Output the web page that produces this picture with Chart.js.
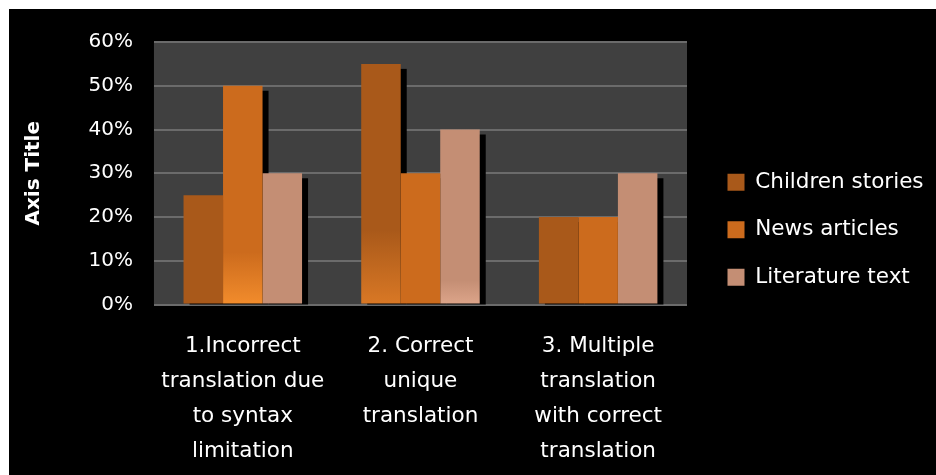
<!DOCTYPE html>
<html>
<head>
<meta charset="utf-8">
<script src="https://cdn.jsdelivr.net/npm/chart.js@4"></script>
<style>
  html, body { margin: 0; padding: 0; background: #ffffff; }
  #frame { position: absolute; left: 9px; top: 9px; width: 927px; height: 466px; background: #000000; overflow: hidden; }
  canvas { display: block; }
</style>
</head>
<body>
<div id="frame"><canvas id="chart" width="927" height="466"></canvas></div>
<script>
// Categories (multi-line axis labels)
const categories = [
  ['1.Incorrect', 'translation due', 'to syntax', 'limitation'],
  ['2. Correct', 'unique', 'translation'],
  ['3. Multiple', 'translation', 'with correct', 'translation']
];

// Series names
const seriesNames = ['Children stories', 'News articles', 'Literature text'];

// Series values (percent)
const childrenStories = [25, 55, 20];
const newsArticles = [50, 30, 20];
const literatureText = [30, 40, 30];

// Value axis
const yMin = 0;
const yMax = 60;
const yStep = 10;
const yAxisTitle = 'Axis Title';

// Styling
const seriesColors = ['#A9591A', '#CC6B1D', '#C48E74'];
// Lighter fade toward the base of some bars: start value and bottom colour
const seriesGlow = [
  [null, { from: 17, to: '#D97825' }, null],
  [{ from: 12, to: '#F28C2C' }, null, null],
  [null, { from: 5.5, to: '#DDA58A' }, null]
];

const FONT = "'DejaVu Sans', sans-serif";

function barFill(base, glows) {
  return (c) => {
    if (c.type !== 'data') return base;
    const g = glows[c.dataIndex];
    const area = c.chart.chartArea;
    const y = c.chart.scales.y;
    if (!g || !area || !y) return base;
    const top = y.getPixelForValue(g.from);
    const grad = c.chart.ctx.createLinearGradient(0, top, 0, area.bottom);
    grad.addColorStop(0, base);
    grad.addColorStop(1, g.to);
    return grad;
  };
}

// Dark plot panel behind the grid
const plotPanel = {
  id: 'plotPanel',
  beforeDraw(chart, args, opts) {
    const { ctx, chartArea: a } = chart;
    ctx.save();
    ctx.fillStyle = opts.color;
    ctx.fillRect(a.left, a.top, a.right - a.left, a.bottom - a.top);
    ctx.restore();
  }
};

// Hard drop shadow under every bar
const barShadow = {
  id: 'barShadow',
  beforeDatasetsDraw(chart, args, opts) {
    const { ctx, chartArea: a } = chart;
    ctx.save();
    ctx.beginPath();
    ctx.rect(a.left, a.top, a.right - a.left, a.bottom - a.top);
    ctx.clip();
    ctx.fillStyle = opts.color;
    chart.getSortedVisibleDatasetMetas().forEach(meta => {
      meta.data.forEach(el => {
        const p = el.getProps(['x', 'y', 'base', 'width'], true);
        ctx.fillRect(p.x - p.width / 2 + opts.dx, p.y + opts.dy, p.width, p.base - p.y);
      });
    });
    ctx.restore();
  }
};

// Moves the legend block next to the plot
const legendNudge = {
  id: 'legendNudge',
  afterLayout(chart, args, opts) {
    const lg = chart.legend;
    if (!lg) return;
    lg.left += opts.x; lg.right += opts.x;
    lg.top += opts.y; lg.bottom += opts.y;
  }
};

const values = [childrenStories, newsArticles, literatureText];

new Chart(document.getElementById('chart'), {
  type: 'bar',
  data: {
    labels: categories,
    datasets: seriesNames.map((name, i) => ({
      label: name,
      data: values[i],
      backgroundColor: barFill(seriesColors[i], seriesGlow[i]),
      borderWidth: 0,
      categoryPercentage: 0.667,
      barPercentage: 1.0
    }))
  },
  options: {
    responsive: false,
    animation: false,
    events: [],
    layout: { padding: { top: 30, left: 0, right: 23, bottom: -17.5 } },
    scales: {
      x: {
        grid: { display: false, drawTicks: false },
        border: { display: false },
        ticks: {
          color: '#FFFFFF',
          font: { family: FONT, size: 21.5, lineHeight: '35px' },
          padding: 24,
          maxRotation: 0,
          autoSkip: false
        }
      },
      y: {
        min: yMin,
        max: yMax,
        grid: { color: '#6B6B6B', lineWidth: 2, drawTicks: false },
        border: { display: false },
        ticks: {
          stepSize: yStep,
          color: '#FFFFFF',
          font: { family: FONT, size: 20 },
          padding: 21,
          callback: v => v + '%'
        },
        title: {
          display: true,
          text: yAxisTitle,
          color: '#FFFFFF',
          font: { family: FONT, size: 20, weight: 'bold', lineHeight: 1.2 },
          padding: { top: 12.5, bottom: 22 }
        }
      }
    },
    plugins: {
      legend: {
        position: 'right',
        labels: {
          color: '#FFFFFF',
          font: { family: FONT, size: 21.5 },
          boxWidth: 17,
          boxHeight: 17,
          padding: 26
        }
      },
      tooltip: { enabled: false },
      plotPanel: { color: '#404040' },
      barShadow: { color: '#000000', dx: 6, dy: 5 },
      legendNudge: { x: 14.5, y: -36 }
    }
  },
  plugins: [plotPanel, barShadow, legendNudge]
});
</script>
</body>
</html>
